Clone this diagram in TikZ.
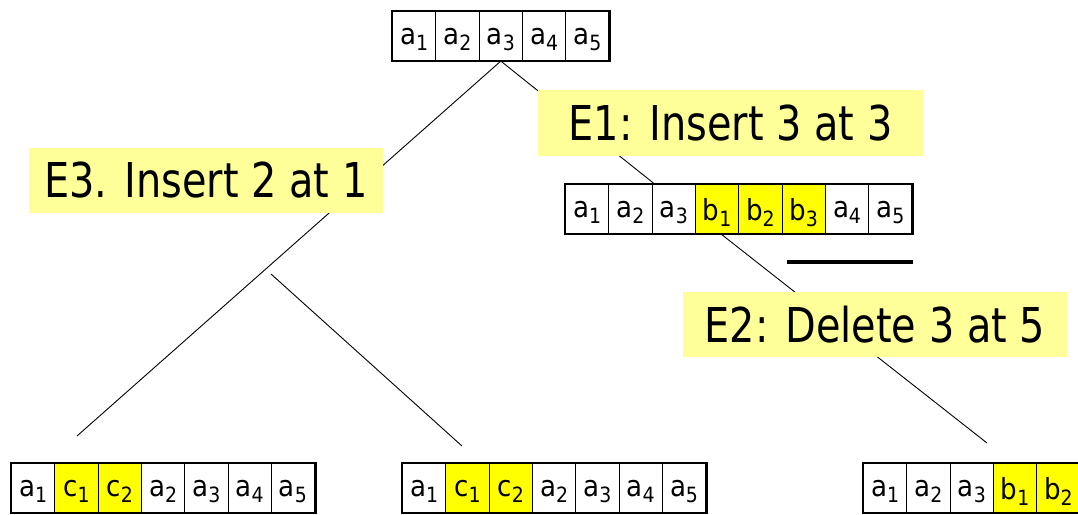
\documentclass[tikz,border=0pt]{standalone}
\usepackage{fontspec}
\setmainfont{DejaVu Sans}[FakeStretch=0.83]
\newfontfamily\cellfont{DejaVu Sans}[FakeStretch=0.9]
\definecolor{notefill}{HTML}{FFFF99}
\definecolor{hilite}{HTML}{FFFF00}
% element with a lowered index, e.g. a_1
\newcommand\elt[2]{#1\raisebox{-6pt}{\fontsize{21}{21}\selectfont #2}}
% row of cells: name, left x, top y, cells (letter/index/fill), number of cells
\newcommand\cellrow[5]{%
  \foreach \t/\s/\f [count=\i] in {#4}
    {\node[cellbox,fill=\f] (#1-\i) at ({#2+(\i-1)*43.3},#3) {\elt{\t}{\s}};}
  \draw[rowframe] (#1-1.north west) rectangle (#1-#5.south east);
}
\tikzset{
  cellbox/.style={draw=black, line width=1.1pt, minimum width=43.3pt,
    minimum height=49pt, inner sep=0pt, anchor=north west,
    text depth=0pt, font=\cellfont\fontsize{29}{29}\selectfont},
  rowframe/.style={draw=black, line width=2.6pt},
  link/.style={draw=black, line width=0.9pt},
  note/.style={fill=notefill, inner sep=0pt, font=\fontsize{48}{48}\selectfont},
}
\begin{document}
\begin{tikzpicture}[x=1pt,y=-1pt]
\useasboundingbox (0,0) rectangle (1078,514);
\clip (0,0) rectangle (1078,514);
\fill[white] (0,0) rectangle (1078,514);

% free ends of the branches
\coordinate (leftend) at (77,436);
\coordinate (forkA) at (271,274);
\coordinate (forkB) at (462,446);
\coordinate (rightend) at (987,443);

% arrays
\cellrow{top}{392}{11}{a/1/white,a/2/white,a/3/white,a/4/white,a/5/white}{5}
\cellrow{mid}{565}{184}{a/1/white,a/2/white,a/3/white,b/1/hilite,b/2/hilite,b/3/hilite,a/4/white,a/5/white}{8}
\cellrow{bl}{11}{463}{a/1/white,c/1/hilite,c/2/hilite,a/2/white,a/3/white,a/4/white,a/5/white}{7}
\cellrow{bm}{402}{463}{a/1/white,c/1/hilite,c/2/hilite,a/2/white,a/3/white,a/4/white,a/5/white}{7}
\cellrow{br}{863}{463}{a/1/white,a/2/white,a/3/white,b/1/hilite,b/2/hilite}{5}

% branches
\draw[link] (top-3.south) -- (leftend);
\draw[link] (top-3.south) -- ([xshift=3pt]mid-3.north west);
\draw[link] ([xshift=4pt]mid-4.south) -- (rightend);
\draw[link] (forkA) -- (forkB);

% edit labels
\node[note, minimum width=385pt, minimum height=66pt] (e1) at (730.5,123) {E1: Insert 3 at 3};
\node[note, minimum width=354pt, minimum height=65pt] (e3) at (206,180.5) {E3. Insert 2 at 1};
\node[note, minimum width=384pt, minimum height=65pt] (e2) at (875,324.5) {E2: Delete 3 at 5};

% underline below the last cells
\draw[line width=3.5pt] (787,262) -- (913,262);
\end{tikzpicture}
\end{document}
